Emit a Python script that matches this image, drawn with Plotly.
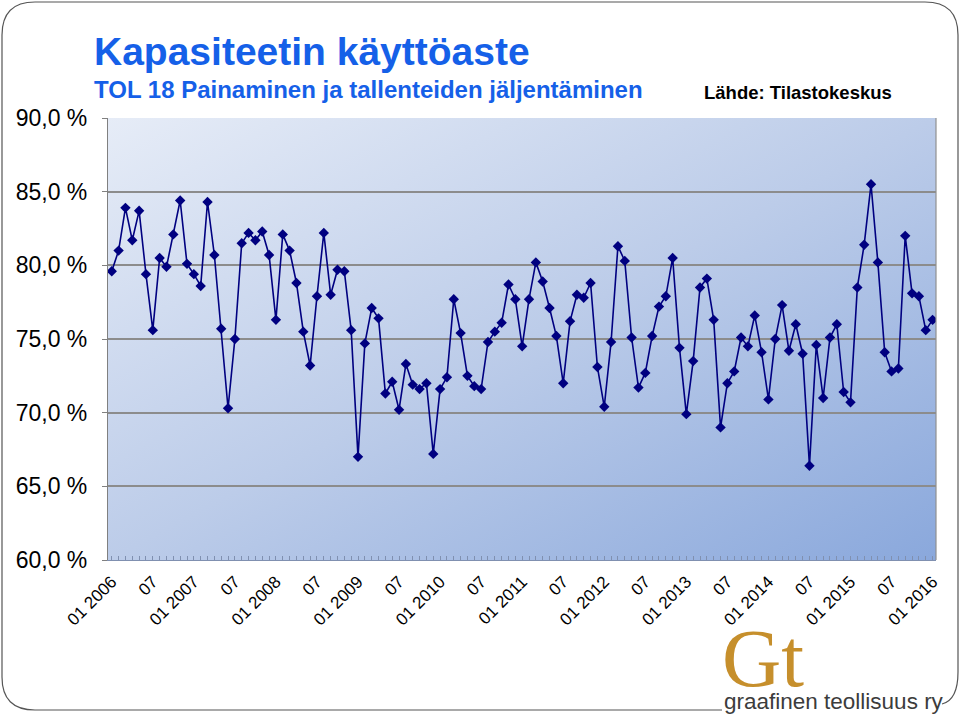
import base64
import plotly.graph_objects as go

# ---- data ----
values = [
    79.6, 81.0, 83.9, 81.7, 83.7, 79.4, 75.6, 80.5, 79.9, 82.1, 84.4, 80.1,   # 2006
    79.4, 78.6, 84.3, 80.7, 75.7, 70.3, 75.0, 81.5, 82.2, 81.7, 82.3, 80.7,   # 2007
    76.3, 82.1, 81.0, 78.8, 75.5, 73.2, 77.9, 82.2, 78.0, 79.7, 79.6, 75.6,   # 2008
    67.0, 74.7, 77.1, 76.4, 71.3, 72.1, 70.2, 73.3, 71.9, 71.6, 72.0, 67.2,   # 2009
    71.6, 72.4, 77.7, 75.4, 72.5, 71.8, 71.6, 74.8, 75.5, 76.1, 78.7, 77.7,   # 2010
    74.5, 77.7, 80.2, 78.9, 77.1, 75.2, 72.0, 76.2, 78.0, 77.8, 78.8, 73.1,   # 2011
    70.4, 74.8, 81.3, 80.3, 75.1, 71.7, 72.7, 75.2, 77.2, 77.9, 80.5, 74.4,   # 2012
    69.9, 73.5, 78.5, 79.1, 76.3, 69.0, 72.0, 72.8, 75.1, 74.5, 76.6, 74.1,   # 2013
    70.9, 75.0, 77.3, 74.2, 76.0, 74.0, 66.4, 74.6, 71.0, 75.1, 76.0, 71.4,   # 2014
    70.7, 78.5, 81.4, 85.5, 80.2, 74.1, 72.8, 73.0, 82.0, 78.1, 77.9, 75.6,   # 2015
    76.3,                                                                     # 2016-01
]
x_tick_labels = ["01 2006", "07", "01 2007", "07", "01 2008", "07", "01 2009", "07",
                 "01 2010", "07", "01 2011", "07", "01 2012", "07", "01 2013", "07",
                 "01 2014", "07", "01 2015", "07", "01 2016"]
y_tick_values = [60, 65, 70, 75, 80, 85, 90]
y_tick_labels = ["60,0 %", "65,0 %", "70,0 %", "75,0 %", "80,0 %", "85,0 %", "90,0 %"]

month_names = []
for i in range(len(values)):
    month_names.append(f"{i % 12 + 1:02d} {2006 + i // 12}")
x_index = list(range(len(values)))
x_tick_pos = list(range(0, len(values), 6))

# ---- layout geometry (pixels) ----
W, H = 960, 717
L, R, T, B = 108, 936, 118, 560


def px(x):
    return (x - L) / (R - L)


def py(y):
    return (B - y) / (B - T)


fig = go.Figure()
fig.add_trace(go.Scatter(
    x=x_index, y=values, mode="lines+markers",
    line=dict(color="#000080", width=1.6),
    marker=dict(symbol="diamond", size=8, color="#000080"),
    customdata=month_names,
    hovertemplate="%{customdata}: %{y:.1f} %<extra></extra>",
    showlegend=False,
))

svg = ('<svg xmlns="http://www.w3.org/2000/svg" width="828" height="442" viewBox="0 0 828 442" '
       'preserveAspectRatio="none"><defs><linearGradient id="g" x1="0" y1="0" x2="1" y2="1">'
       '<stop offset="0" stop-color="#e6ecf7"/><stop offset="0.5" stop-color="#bccce9"/>'
       '<stop offset="1" stop-color="#8aa8dc"/></linearGradient></defs>'
       '<rect width="828" height="442" fill="url(#g)"/></svg>')
src = "data:image/svg+xml;base64," + base64.b64encode(svg.encode()).decode()
fig.add_layout_image(dict(source=src, xref="paper", yref="paper", x=0, y=1,
                          sizex=1, sizey=1, xanchor="left", yanchor="top",
                          sizing="stretch", layer="below"))


def P(x, y):
    return f"{px(x):.5f},{py(y):.5f}"


# outer rounded frame
frame = ("M " + P(722, 710) + " L " + P(35, 710) + " Q " + P(2, 710) + " " + P(2, 677) +
         " L " + P(2, 35) + " Q " + P(2, 2) + " " + P(35, 2) +
         " L " + P(925, 2) + " Q " + P(958, 2) + " " + P(958, 35) +
         " L " + P(958, 672) + " Q " + P(958, 700) + " " + P(942, 704))
fig.add_shape(type="path", path=frame, xref="paper", yref="paper",
              line=dict(color="#555555", width=1.2))
fig.add_shape(type="line", xref="paper", yref="paper", x0=1, x1=1, y0=0, y1=1,
              line=dict(color="#909090", width=1.2))

font = "Liberation Sans, Arial, sans-serif"
ann = [
    dict(text="<b>Kapasiteetin käyttöaste</b>", x=px(92), y=py(51), xanchor="left", yanchor="middle",
         font=dict(family=font, size=39, color="#1560e8")),
    dict(text="<b>TOL 18 Painaminen ja tallenteiden jäljentäminen</b>", x=px(92), y=py(89),
         xanchor="left", yanchor="middle", font=dict(family=font, size=24, color="#1560e8")),
    dict(text="<b>Lähde: Tilastokeskus</b>", x=px(702), y=py(92), xanchor="left", yanchor="middle",
         font=dict(family=font, size=18.5, color="#000000")),
    dict(text="Gt", x=px(720), y=py(658), xanchor="left", yanchor="middle",
         font=dict(family="Liberation Serif, Times New Roman, serif", size=82, color="#c68f2c")),
    dict(text="graafinen teollisuus ry", x=px(722), y=py(701), xanchor="left", yanchor="middle",
         font=dict(family=font, size=22.5, color="#3c3c3c")),
]
for a in ann:
    a.update(xref="paper", yref="paper", showarrow=False)
    fig.add_annotation(**a)

fig.update_layout(
    width=W, height=H,
    margin=dict(l=L, r=W - R, t=T, b=H - B, pad=0),
    paper_bgcolor="#ffffff", plot_bgcolor="rgba(0,0,0,0)",
    font=dict(family=font, color="#000000"),
    xaxis=dict(
        range=[-0.55, 120.5], tickmode="array", tickvals=x_tick_pos, ticktext=x_tick_labels,
        tickangle=-45, tickfont=dict(size=17, color="#000000"),
        showgrid=False, zeroline=False, showline=True, linecolor="#8090b0", linewidth=1.2,
        ticks="inside", ticklen=4, tickcolor="#8090b0", ticklabelstandoff=4,
        minor=dict(tickmode="linear", tick0=0, dtick=1, ticks="inside", ticklen=4,
                   tickcolor="#8090b0", showgrid=False),
        fixedrange=True,
    ),
    yaxis=dict(
        range=[60, 90], tickmode="array", tickvals=y_tick_values, ticktext=y_tick_labels,
        tickfont=dict(size=23, color="#000000"),
        showgrid=True, gridcolor="#8c8c8c", gridwidth=1.5, zeroline=False,
        showline=True, linecolor="#808080", linewidth=1.2,
        ticks="outside", ticklen=5, tickcolor="#808080", ticklabelstandoff=10,
        fixedrange=True,
    ),
)

fig.write_html("out.html", config={"displayModeBar": False},
               post_script="document.body.style.margin='0';document.body.style.padding='0';")
